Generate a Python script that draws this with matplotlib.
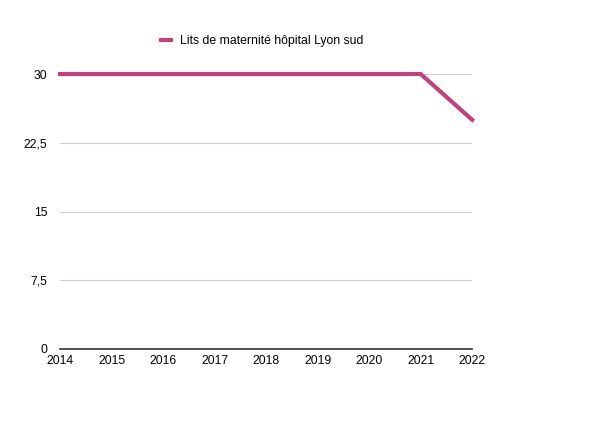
import matplotlib
matplotlib.use("Agg")
import matplotlib.pyplot as plt
from matplotlib.ticker import FuncFormatter

years = [2014, 2015, 2016, 2017, 2018, 2019, 2020, 2021, 2022]
lits = [30, 30, 30, 30, 30, 30, 30, 30, 25]
yticks = [0, 7.5, 15, 22.5, 30]
series_name = "Lits de maternité hôpital Lyon sud"

plt.rcParams['font.family'] = ['Liberation Sans', 'DejaVu Sans']
fig = plt.figure(figsize=(6, 4.23), dpi=100)
ax = fig.add_axes([0.1, 0.175, 0.687, 0.65])

ax.plot(years, lits, color="#c2407e", lw=3, clip_on=False, solid_joinstyle='miter',
        label=series_name, zorder=3)
ax.set_xlim(2014, 2022)
ax.set_ylim(0, 30)
ax.set_yticks(yticks)
ax.yaxis.set_major_formatter(FuncFormatter(lambda v, p: (f"{v:g}").replace('.', ',')))
ax.set_xticks(years)
ax.grid(axis='y', color='#d0d0d0', lw=0.8)
ax.set_axisbelow(True)
for s in ['top', 'right', 'left']:
    ax.spines[s].set_visible(False)
ax.spines['bottom'].set_color('#333333')
ax.spines['bottom'].set_linewidth(1.2)
ax.tick_params(axis='both', length=0, labelsize=8.8, colors='black')
ax.tick_params(axis='y', pad=9)
ax.tick_params(axis='x', pad=4.5)

leg = fig.legend(loc='center', bbox_to_anchor=(0.437, 0.903), frameon=False,
                 fontsize=8.8, handlelength=0.8, handletextpad=0.8)
fig.savefig("out.png", dpi=100)
